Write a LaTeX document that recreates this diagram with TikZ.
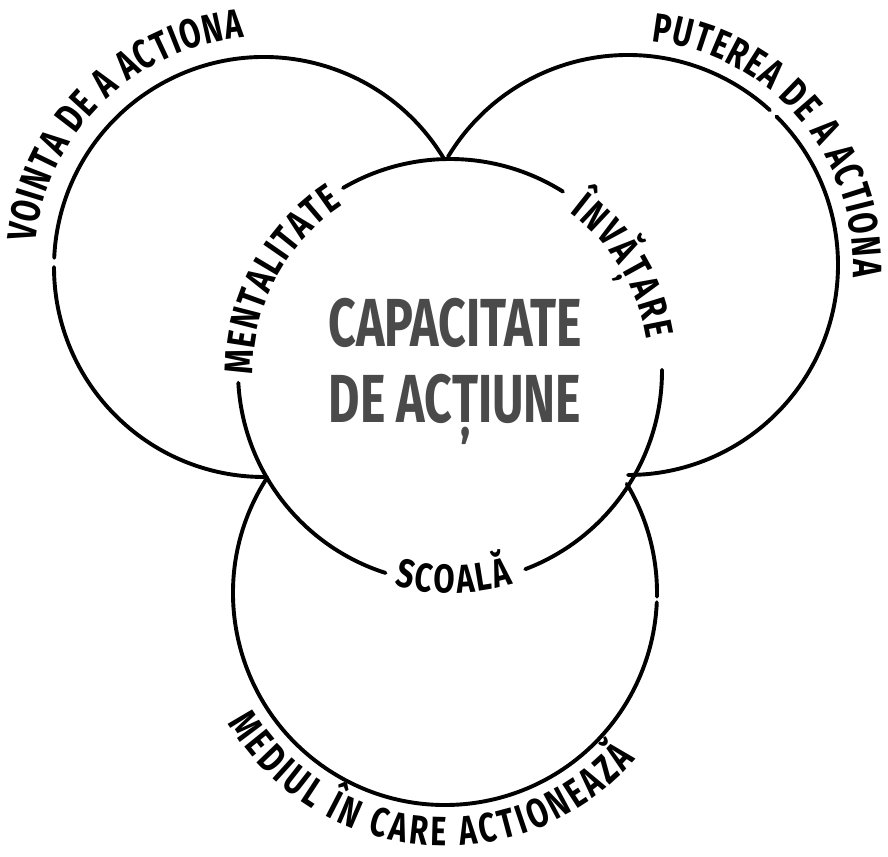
\documentclass[tikz,border=0pt]{standalone}
\usepackage{fontspec}
\setmainfont{Fira Sans}
\newfontfamily\outerfont[FakeStretch=0.74]{Fira Sans}
\newfontfamily\innerfont[FakeStretch=0.77]{Fira Sans}
\newfontfamily\centerfont[FakeStretch=0.71]{Fira Sans}
\usetikzlibrary{decorations.text,calc}
\definecolor{inkgray}{HTML}{4A4A4A}
\newcommand\outerfmt{\outerfont\bfseries\fontsize{41pt}{41pt}\selectfont}
\newcommand\innerfmt{\innerfont\bfseries\fontsize{40pt}{40pt}\selectfont}
\newcommand\centerfmt{\centerfont\bfseries\fontsize{68pt}{68pt}\selectfont}
\tikzset{
  ring/.style={line width=3.9pt, line cap=round},
  arctext/.style={decorate, decoration={text along path, text={#1}, text align=fit to path}}
}
\begin{document}
\begin{tikzpicture}[x=1pt,y=1pt]
\fill[white] (0,0) rectangle (888,856);
\useasboundingbox (0,0) rectangle (888,856);
\coordinate (C) at (450,485);
\coordinate (L) at (264,589);
\coordinate (R) at (628,591);
\coordinate (B) at (445,263);
% left circle
\draw[ring] ($(L)+(31:210)$) arc[start angle=31, end angle=177.5, radius=210];
\draw[ring] ($(L)+(180:210)$) arc[start angle=180, end angle=270, radius=210];
% right circle
\draw[ring] ($(R)+(149:210)$) arc[start angle=149, end angle=47.5, radius=210];
\draw[ring] ($(R)+(45:210)$) arc[start angle=45, end angle=-90, radius=210];
% bottom circle
\draw[ring] ($(B)+(147:212)$) arc[start angle=147, end angle=357.5, radius=212];
\draw[ring] ($(B)+(359:212)$) arc[start angle=359, end angle=391, radius=212];
% central circle
\draw[ring] ($(C)+(57.8:212)$) arc[start angle=57.8, end angle=120.3, radius=212];
\draw[ring] ($(C)+(183.2:212)$) arc[start angle=183.2, end angle=252.3, radius=212];
\draw[ring] ($(C)+(290.8:212)$) arc[start angle=290.8, end angle=360.3, radius=212];
% outer labels
\path[arctext={|\outerfmt|VOINTA DE A ACTIONA}] ($(L)+(174:230)$) arc[start angle=174, end angle=95, radius=230];
\path[arctext={|\outerfmt|PUTEREA DE A ACTIONA}] ($(R)+(84:225)$) arc[start angle=84, end angle=-3, radius=225];
\path[arctext={|\outerfmt|MEDIUL ÎN CARE ACTIONEAZĂ}] ($(B)+(211:253)$) arc[start angle=211, end angle=319, radius=253];
% inner labels
\path[arctext={|\innerfmt|MENTALITATE}] ($(C)+(181:197)$) arc[start angle=181, end angle=123, radius=197];
\path[arctext={|\innerfmt|ÎNVĂȚARE}] ($(C)+(53:199)$) arc[start angle=53, end angle=9, radius=199];
\path[arctext={|\innerfmt|SCOALĂ}] ($(C)+(255.4:222)$) arc[start angle=255.4, end angle=286.5, radius=222];
% center
\node[font=\centerfmt, text=inkgray, anchor=base, inner sep=0pt] (cap) at (455,509) {CAPACITATE};
\node[font=\centerfmt, text=inkgray, anchor=base, inner sep=0pt] (act) at (455,433) {DE ACȚIUNE};
\end{tikzpicture}
\end{document}
